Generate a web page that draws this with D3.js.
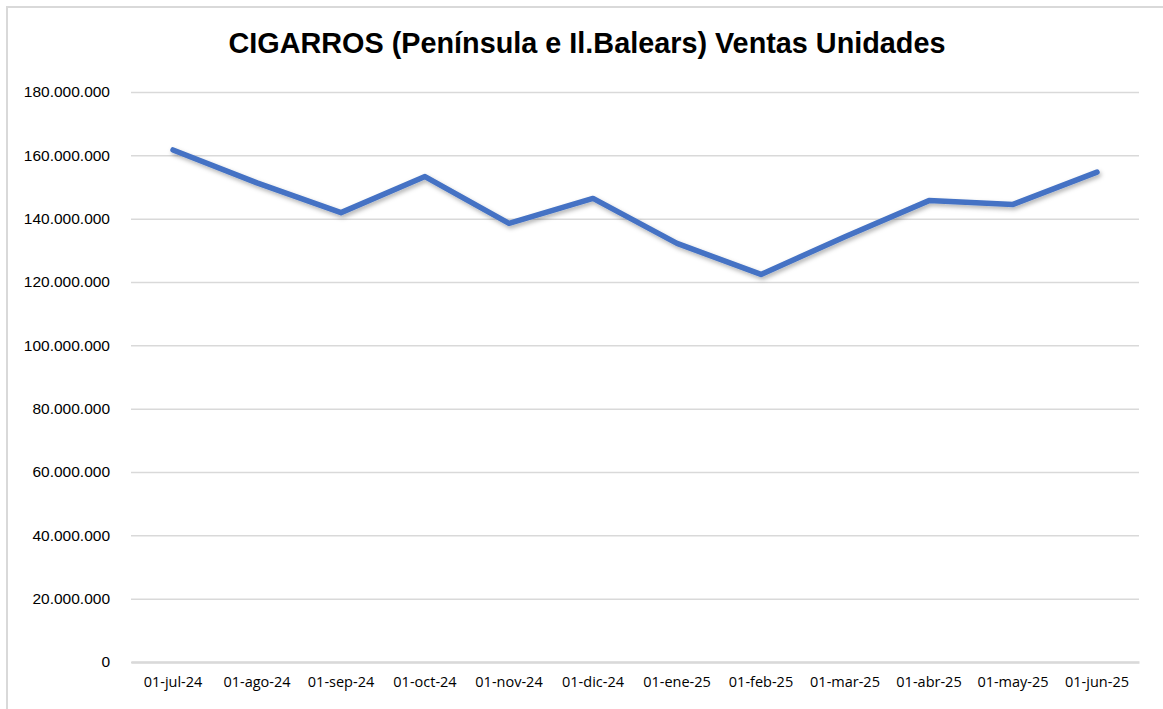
<!DOCTYPE html>
<html>
<head>
<meta charset="utf-8">
<script src="https://cdn.jsdelivr.net/npm/d3@7"></script>
<style>
  body { margin: 0; background: #fff; overflow: hidden; }
  svg { display: block; }
</style>
</head>
<body>
<svg id="chart" width="1163" height="709"></svg>
<script>
const months = ["01-jul-24", "01-ago-24", "01-sep-24", "01-oct-24", "01-nov-24", "01-dic-24",
  "01-ene-25", "01-feb-25", "01-mar-25", "01-abr-25", "01-may-25", "01-jun-25"];
const sales = [161700000, 151300000, 141900000, 153300000, 138500000, 146400000,
  132200000, 122400000, 134300000, 145700000, 144500000, 154700000];
const yTicks = [0, 20000000, 40000000, 60000000, 80000000, 100000000,
  120000000, 140000000, 160000000, 180000000];

const width = 1163, height = 709;
const margin = { top: 92, right: 24, bottom: 47, left: 131 };
const innerWidth = width - margin.left - margin.right;
const innerHeight = height - margin.top - margin.bottom;

const svg = d3.select("#chart");

// chart frame (only top and left edges are visible in the crop)
svg.append("path")
  .attr("d", `M7,${height} V7 H${width}`)
  .attr("fill", "none")
  .attr("stroke", "#d9d9d9")
  .attr("stroke-width", 2);

svg.append("text")
  .attr("x", 587)
  .attr("y", 53)
  .attr("text-anchor", "middle")
  .attr("font-family", "Liberation Sans, Arial, sans-serif")
  .attr("font-weight", "bold")
  .attr("font-size", 28.8)
  .attr("fill", "#000")
  .text("CIGARROS (Península e Il.Balears) Ventas Unidades");

const defs = svg.append("defs");
const shadow = defs.append("filter")
  .attr("id", "shadow")
  .attr("x", "-5%").attr("y", "-20%")
  .attr("width", "110%").attr("height", "140%");
shadow.append("feDropShadow")
  .attr("dx", 1.5).attr("dy", 2.5)
  .attr("stdDeviation", 2)
  .attr("flood-color", "#000")
  .attr("flood-opacity", 0.3);

const innerChart = svg.append("g")
  .attr("transform", `translate(${margin.left},${margin.top})`);

const xScale = d3.scaleBand()
  .domain(months)
  .range([0, innerWidth]);

const yScale = d3.scaleLinear()
  .domain([0, 180000000])
  .range([innerHeight, 0]);

const fmt = d => d === 0 ? "0" : d3.format(",")(d).replace(/,/g, ".");

const yAxis = innerChart.append("g")
  .attr("class", "y-axis")
  .call(d3.axisLeft(yScale).tickValues(yTicks).tickSize(-innerWidth).tickPadding(21).tickFormat(fmt));
yAxis.select(".domain").remove();
yAxis.selectAll(".tick line")
  .attr("stroke", "#d9d9d9")
  .attr("stroke-width", 1.5);
yAxis.selectAll(".tick text")
  .attr("font-family", "Liberation Sans, Arial, sans-serif")
  .attr("font-size", 15.5)
  .attr("fill", "#000");

const xAxis = innerChart.append("g")
  .attr("class", "x-axis")
  .attr("transform", `translate(0,${innerHeight})`)
  .call(d3.axisBottom(xScale).tickSize(0).tickPadding(15));
xAxis.select(".domain")
  .attr("stroke", "#d9d9d9")
  .attr("stroke-width", 2.5);
xAxis.selectAll(".tick text")
  .attr("font-family", "Open Sans, sans-serif")
  .attr("font-size", 14.5)
  .attr("fill", "#000");

const line = d3.line()
  .x((d, i) => xScale(months[i]) + xScale.bandwidth() / 2)
  .y(d => yScale(d));

innerChart.append("path")
  .datum(sales)
  .attr("d", line)
  .attr("fill", "none")
  .attr("stroke", "#4472c4")
  .attr("stroke-width", 5.5)
  .attr("stroke-linecap", "round")
  .attr("stroke-linejoin", "round")
  .attr("filter", "url(#shadow)");
</script>
</body>
</html>
